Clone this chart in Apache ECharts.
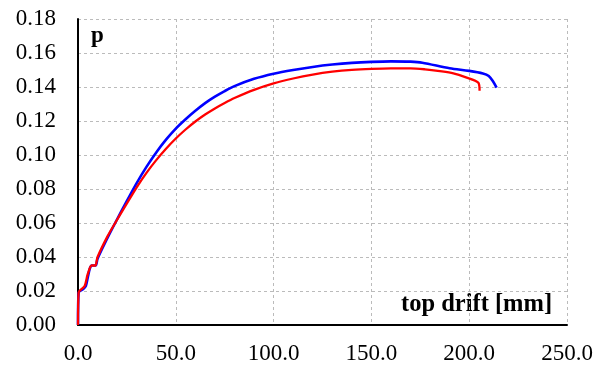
<!DOCTYPE html>
<html>
<head>
<meta charset="utf-8">
<script src="https://cdn.jsdelivr.net/npm/echarts@6/dist/echarts.min.js"></script>
<style>html,body{margin:0;padding:0;background:#fff}#c{width:599px;height:369px}</style>
</head>
<body>
<div id="c"></div>
<script>
const xTicks = [0, 50, 100, 150, 200, 250];
const yTicks = [0, 0.02, 0.04, 0.06, 0.08, 0.10, 0.12, 0.14, 0.16, 0.18];
const blueX = [0, 0.3, 2.5, 4, 5, 6, 7, 9, 10, 15, 19, 25, 30, 35, 40, 45, 50, 55, 60, 65, 70, 75, 80, 90, 100, 110, 120, 130, 140, 150, 160, 170, 176, 190, 200, 207, 210, 212.3, 214];
const blueY = [0, 0.019, 0.021, 0.023, 0.028, 0.033, 0.035, 0.035, 0.039, 0.051, 0.060, 0.073, 0.0835, 0.093, 0.1015, 0.109, 0.1155, 0.121, 0.126, 0.1305, 0.1343, 0.1376, 0.1405, 0.1448, 0.1478, 0.150, 0.1518, 0.1532, 0.1542, 0.1548, 0.1551, 0.1549, 0.1543, 0.151, 0.1495, 0.148, 0.1465, 0.1431, 0.1396];
const redX = [0, 0.3, 3.4, 5, 7, 8.8, 10, 15, 19, 25, 30, 35, 40, 45, 50, 55, 60, 65, 70, 75, 80, 90, 100, 110, 120, 130, 140, 150, 160, 170, 177.4, 185, 191.9, 198, 204.7, 205.3];
const redY = [0, 0.019, 0.023, 0.030, 0.035, 0.035, 0.040, 0.052, 0.060, 0.0715, 0.081, 0.0895, 0.097, 0.1037, 0.1097, 0.115, 0.1197, 0.1238, 0.1274, 0.1306, 0.1335, 0.1383, 0.1421, 0.145, 0.1473, 0.149, 0.1501, 0.1507, 0.151, 0.151, 0.1504, 0.1493, 0.148, 0.1458, 0.1425, 0.1378];

const font = '"Liberation Serif", "Times New Roman", serif';
const chart = echarts.init(document.getElementById('c'));
chart.setOption({
  animation: false,
  grid: {left: 78, right: 32, top: 19, bottom: 44},
  xAxis: {
    type: 'value', min: xTicks[0], max: xTicks[xTicks.length - 1], interval: 50,
    axisLine: {show: true, onZero: false, lineStyle: {color: '#000', width: 2}},
    axisTick: {show: false},
    axisLabel: {color: '#000', fontFamily: font, fontSize: 23, margin: 17, formatter: v => v.toFixed(1)},
    splitLine: {show: true, lineStyle: {color: '#bbb', type: [3, 3], width: 1}}
  },
  yAxis: {
    type: 'value', min: yTicks[0], max: yTicks[yTicks.length - 1], interval: 0.02,
    axisLine: {show: true, onZero: false, lineStyle: {color: '#000', width: 2}},
    axisTick: {show: false},
    axisLabel: {color: '#000', fontFamily: font, fontSize: 23, margin: 22, formatter: v => v.toFixed(2)},
    splitLine: {show: true, lineStyle: {color: '#bbb', type: [3, 3], width: 1}}
  },
  graphic: [
    {type: 'text', left: 91, top: 25, style: {text: 'p', font: 'bold 23px ' + font, fill: '#000'}},
    {type: 'text', left: 401, top: 292, style: {text: 'top drift [mm]', font: 'bold 24.5px ' + font, fill: '#000'}}
  ],
  series: [
    {type: 'line', data: redX.map((x, i) => [x, redY[i]]), symbol: 'none', smooth: 0.3,
     lineStyle: {color: '#ff0000', width: 2.3}, z: 3},
    {type: 'line', data: blueX.map((x, i) => [x, blueY[i]]), symbol: 'none', smooth: 0.3,
     lineStyle: {color: '#0000ff', width: 2.6}, z: 2}
  ]
});
</script>
</body>
</html>
